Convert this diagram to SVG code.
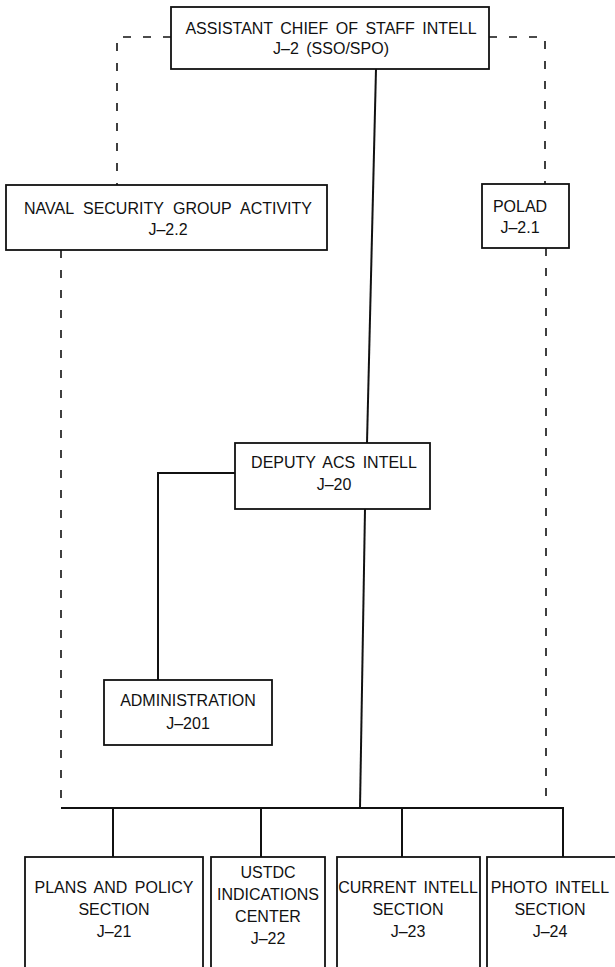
<svg xmlns="http://www.w3.org/2000/svg" width="615" height="967" viewBox="0 0 615 967">
<style>
.box{fill:#fff;stroke:#111;stroke-width:1.8}
.ln{fill:none;stroke:#111;stroke-width:2}
.ds{fill:none;stroke:#111;stroke-width:1.6;stroke-dasharray:8 12}
text{font-family:"Liberation Sans",Arial,sans-serif;font-size:16px;fill:#111;text-anchor:middle;word-spacing:3px}
</style>
<rect width="615" height="967" fill="#fff"/>
<g id="connectors">
<path class="ds" d="M171,37 H117 V185"/>
<path class="ds" d="M489,37 H545 V184"/>
<path class="ds" d="M61,250 V806"/>
<path class="ds" d="M546,248 V806"/>
<path class="ln" d="M376,69 L367,443"/>
<path class="ln" d="M365,509 L360,808"/>
<path class="ln" d="M235,473 H158 V680"/>
<path class="ln" d="M61,808 H563 V857"/>
<path class="ln" d="M113,808 V857"/>
<path class="ln" d="M261,808 V857"/>
<path class="ln" d="M402,808 V857"/>
</g>
<g id="acos">
<rect class="box" x="171" y="7" width="318" height="62"/>
<text x="331" y="33.5">ASSISTANT CHIEF OF STAFF INTELL</text>
<text x="331" y="53.5">J–2 (SSO/SPO)</text>
</g>
<g id="naval">
<rect class="box" x="6" y="185" width="321" height="65"/>
<text x="168" y="213.5" style="word-spacing:5px">NAVAL SECURITY GROUP ACTIVITY</text>
<text x="168" y="234.5">J–2.2</text>
</g>
<g id="polad">
<rect class="box" x="482" y="184" width="87" height="64"/>
<text x="520" y="211.5">POLAD</text>
<text x="520" y="232.5">J–2.1</text>
</g>
<g id="deputy">
<rect class="box" x="235" y="443" width="195" height="66"/>
<text x="334" y="468">DEPUTY ACS INTELL</text>
<text x="334" y="490">J–20</text>
</g>
<g id="admin">
<rect class="box" x="104" y="680" width="168" height="65"/>
<text x="188" y="706">ADMINISTRATION</text>
<text x="188" y="729">J–201</text>
</g>
<g id="plans">
<rect class="box" x="25" y="857" width="178" height="112"/>
<text x="114" y="893">PLANS AND POLICY</text>
<text x="114" y="915">SECTION</text>
<text x="114" y="937">J–21</text>
</g>
<g id="ustdc">
<rect class="box" x="211" y="857" width="114" height="112"/>
<text x="268" y="878">USTDC</text>
<text x="268" y="900">INDICATIONS</text>
<text x="268" y="922">CENTER</text>
<text x="268" y="944">J–22</text>
</g>
<g id="current">
<rect class="box" x="337" y="857" width="143" height="112"/>
<text x="408" y="893">CURRENT INTELL</text>
<text x="408" y="915">SECTION</text>
<text x="408" y="937">J–23</text>
</g>
<g id="photo">
<rect class="box" x="487" y="857" width="135" height="112"/>
<text x="550" y="893">PHOTO INTELL</text>
<text x="550" y="915">SECTION</text>
<text x="550" y="937">J–24</text>
</g>
</svg>
